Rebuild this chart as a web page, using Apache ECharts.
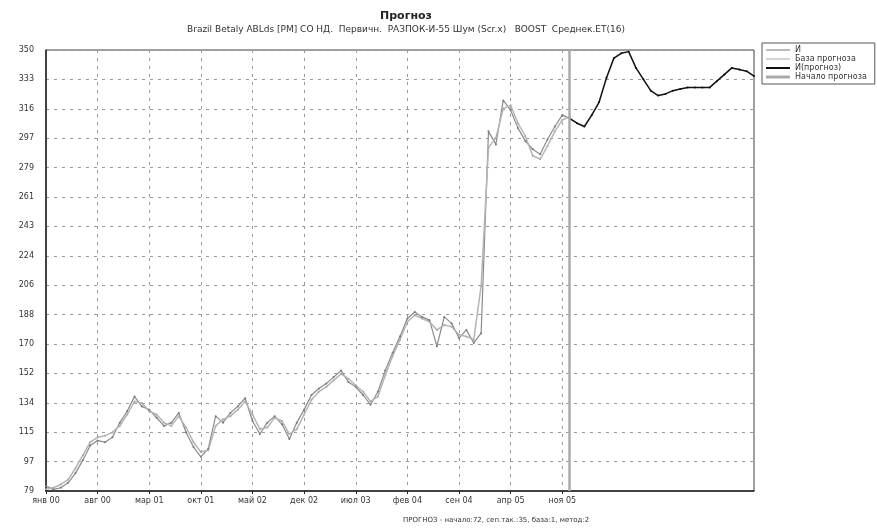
<!DOCTYPE html>
<html>
<head>
<meta charset="utf-8">
<script src="https://cdn.jsdelivr.net/npm/echarts@6/dist/echarts.min.js"></script>
<style>
  html, body { margin: 0; padding: 0; background: #fff; }
  #chart { width: 877px; height: 530px; }
</style>
</head>
<body>
<div id="chart"></div>
<script>
// месяцы для подписей оси X (янв 00 ... янв 08)
const monthNames = ['янв', 'фев', 'мар', 'апр', 'май', 'июн', 'июл', 'авг', 'сен', 'окт', 'ноя', 'дек']
const years = ['00', '01', '02', '03', '04', '05', '06', '07', '08']
const pointCount = 97

// подписи оси Y
const yLabels = ['79', '97', '115', '134', '152', '170', '188', '206', '224', '243', '261', '279', '297', '316', '333', '350']

// И - фактические значения (индексы 0..71)
const seriesI = [82, 80, 81, 84, 90, 98, 107, 110, 109, 112, 121, 128, 137, 131, 129, 124, 119, 121, 127, 115,
  106, 100, 105, 125, 121, 127, 131, 136, 122, 114, 121, 125, 120, 111, 121, 129, 138, 142, 145, 149,
  153, 146, 143, 138, 132, 140, 153, 164, 174, 185, 189, 186, 184, 168, 186, 182, 173, 178, 170, 176,
  300, 292, 319, 313, 302, 294, 289, 286, 295, 303, 310, 308]

// База прогноза
const seriesBase = [80, 81, 83, 86, 93, 101, 109, 112, 113, 115, 119, 126, 134, 133, 128, 126, 121, 119, 125, 118,
  109, 103, 104, 119, 123, 125, 129, 134, 126, 117, 118, 124, 122, 114, 117, 126, 135, 140, 143, 147,
  151, 148, 144, 140, 134, 137, 150, 162, 172, 183, 187, 185, 183, 178, 181, 180, 175, 174, 172, 205,
  290, 296, 314, 316, 305, 297, 285, 283, 291, 300, 307, 309]

// И(прогноз) - начиная с индекса 71
const forecastStart = 71
const seriesForecast = [308, 305, 303, 310, 318, 333, 345, 348, 349, 339, 332, 325, 322, 323, 325, 326, 327, 327,
  327, 327, 331, 335, 339, 338, 337, 334]

let categories = []
for (let i = 0; i < pointCount; i++) {
  categories.push(monthNames[i % 12] + ' ' + years[Math.floor(i / 12)])
}

let forecastData = []
for (let i = 0; i < pointCount; i++) {
  forecastData.push(i >= forecastStart ? seriesForecast[i - forecastStart] : '-')
}

const showTick = (index) => index % 7 === 0 && index <= 70

const option = {
  animation: false,
  backgroundColor: '#fff',
  title: {
    text: 'Прогноз',
    subtext: 'Brazil Betaly ABLds [PM] CO НД.  Первичн.  РАЗПОК-И-55 Шум (Scr.x)   BOOST  Среднек.ET(16)',
    left: 401,
    textAlign: 'center',
    top: 6,
    itemGap: 3,
    textStyle: {fontSize: 11, fontWeight: 'bold', color: '#222', fontFamily: 'DejaVu Sans'},
    subtextStyle: {fontSize: 9, color: '#333', fontFamily: 'DejaVu Sans'}
  },
  legend: {
    orient: 'vertical',
    left: 762,
    top: 43,
    itemGap: 1,
    itemWidth: 24,
    itemHeight: 6,
    padding: [3, 8, 3, 4],
    borderColor: '#555',
    borderWidth: 1,
    backgroundColor: '#fff',
    textStyle: {fontSize: 8, color: '#333', fontFamily: 'DejaVu Sans'},
    data: [
      {name: 'И', icon: 'path://M0,5 L24,5 L24,6 L0,6 Z'},
      {name: 'База прогноза', icon: 'path://M0,5 L24,5 L24,6 L0,6 Z'},
      {name: 'И(прогноз)', icon: 'path://M0,4.5 L24,4.5 L24,6.5 L0,6.5 Z'},
      {name: 'Начало прогноза', icon: 'path://M0,4 L24,4 L24,7 L0,7 Z'}
    ]
  },
  grid: {
    left: 46,
    right: 123,
    top: 50,
    bottom: 39,
    show: true,
    borderColor: '#444',
    borderWidth: 1
  },
  xAxis: {
    type: 'category',
    data: categories,
    boundaryGap: false,
    axisLine: {lineStyle: {color: '#222', width: 1.5}},
    axisTick: {interval: (index) => showTick(index), length: 3, lineStyle: {color: '#222'}},
    axisLabel: {
      interval: (index) => showTick(index),
      fontSize: 8,
      color: '#333',
      fontFamily: 'DejaVu Sans',
      margin: 6
    },
    splitLine: {
      show: true,
      interval: (index) => showTick(index) && index > 0,
      lineStyle: {type: [3, 5], color: '#999', width: 1}
    }
  },
  yAxis: {
    type: 'value',
    min: 79,
    max: 350,
    interval: 271 / 15,
    axisLine: {show: true, lineStyle: {color: '#222', width: 1.5}},
    axisTick: {show: false},
    axisLabel: {
      fontSize: 8,
      color: '#333',
      fontFamily: 'DejaVu Sans',
      margin: 12,
      formatter: (value, index) => yLabels[index] !== undefined ? yLabels[index] : ''
    },
    splitLine: {lineStyle: {type: [3, 5], color: '#999', width: 1}}
  },
  series: [
    {
      name: 'И',
      type: 'line',
      data: seriesI,
      color: '#8a8a8a',
      symbol: 'circle',
      symbolSize: 2,
      lineStyle: {width: 1.2, color: '#8a8a8a'},
      itemStyle: {color: '#777'}
    },
    {
      name: 'База прогноза',
      type: 'line',
      data: seriesBase,
      color: '#b5b5b5',
      symbol: 'circle',
      symbolSize: 2,
      lineStyle: {width: 1.5, color: '#b5b5b5'},
      itemStyle: {color: '#aaa'}
    },
    {
      name: 'И(прогноз)',
      type: 'line',
      data: forecastData,
      color: '#111',
      symbol: 'circle',
      symbolSize: 2,
      lineStyle: {width: 1.5, color: '#111'},
      itemStyle: {color: '#111'}
    },
    {
      name: 'Начало прогноза',
      type: 'line',
      data: [],
      color: '#aaa',
      markLine: {
        silent: true,
        symbol: 'none',
        label: {show: false},
        lineStyle: {color: '#aaa', width: 2.5, type: 'solid'},
        data: [{xAxis: forecastStart}]
      }
    }
  ],
  graphic: [
    {
      type: 'text',
      left: 403,
      top: 517,
      style: {
        text: 'ПРОГНОЗ - начало:72, сеп.так.:35, база:1, метод:2',
        fontSize: 7,
        fill: '#333',
        fontFamily: 'DejaVu Sans'
      }
    }
  ]
}

const myChart = echarts.init(document.getElementById('chart'))
myChart.setOption(option)
</script>
</body>
</html>
